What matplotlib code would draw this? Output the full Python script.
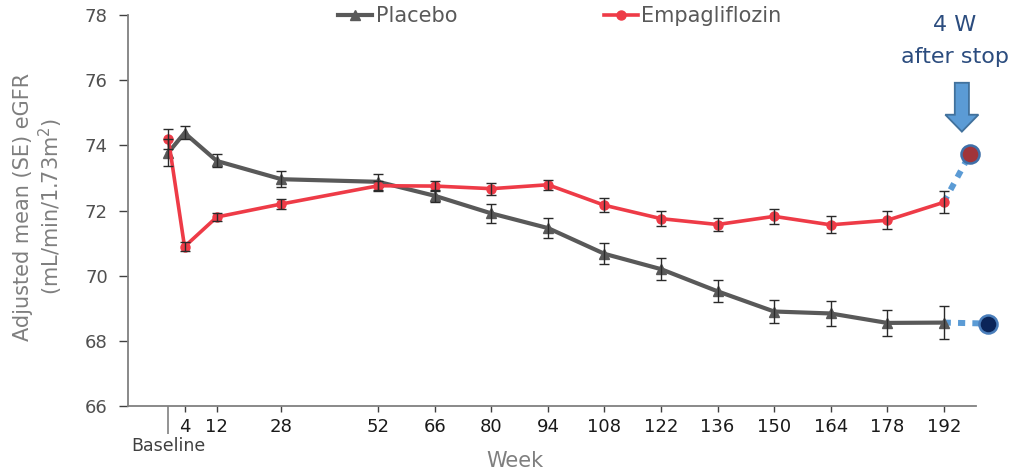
#!/usr/bin/env python
"""
Adjusted mean eGFR over time, placebo vs empagliflozin, with the
4-week off-treatment follow-up values after stop.
"""

import matplotlib
matplotlib.use("Agg")
import matplotlib.pyplot as plt
from matplotlib.patches import FancyArrow

weeks = [0, 4, 12, 28, 52, 66, 80, 94, 108, 122, 136, 150, 164, 178, 192]
week_labels = ["4", "12", "28", "52", "66", "80", "94", "108", "122", "136", "150", "164", "178", "192"]

placebo = [73.78, 74.38, 73.52, 72.96, 72.88, 72.45, 71.91, 71.46, 70.67, 70.20, 69.52, 68.90, 68.84, 68.55, 68.56]
placebo_se = [0.40, 0.20, 0.20, 0.25, 0.25, 0.18, 0.30, 0.30, 0.32, 0.33, 0.34, 0.36, 0.39, 0.41, 0.50]

empa = [74.20, 70.89, 71.80, 72.20, 72.76, 72.75, 72.67, 72.79, 72.16, 71.75, 71.57, 71.82, 71.56, 71.70, 72.25]
empa_se = [0.30, 0.13, 0.12, 0.15, 0.15, 0.15, 0.18, 0.15, 0.21, 0.22, 0.21, 0.23, 0.26, 0.27, 0.34]

# follow-up 4 weeks after stopping treatment
stop_weeks = [198.5, 203]
stop_values = [73.73, 68.53]

GRAY = "#595959"
RED = "#EE3B47"
BLUE = "#5B9BD5"
NAVY_TEXT = "#2B4C7E"

fig = plt.figure(figsize=(10.12, 4.75), dpi=100)
ax = fig.add_axes([128 / 1012, 69 / 475, 848 / 1012, 391 / 475])

# main series
p_line, = ax.plot(weeks, placebo, color=GRAY, lw=3.0, marker="^", ms=7.5, zorder=3, label="Placebo")
e_line, = ax.plot(weeks, empa, color=RED, lw=2.6, marker="o", ms=6.5, zorder=4, label="Empagliflozin")
ax.errorbar(weeks, placebo, yerr=placebo_se, fmt="none", ecolor="#2a2a2a", elinewidth=1.0, capsize=3.5, capthick=1.0, zorder=5)
ax.errorbar(weeks, empa, yerr=empa_se, fmt="none", ecolor="#2a2a2a", elinewidth=1.0, capsize=3.5, capthick=1.0, zorder=5)

# dotted extension to the off-treatment values
ax.plot([weeks[-1], stop_weeks[0]], [empa[-1], stop_values[0]], color=BLUE, lw=4.3,
        linestyle=(0, (1.2, 1.2)), clip_on=False, zorder=2)
ax.plot([weeks[-1], stop_weeks[1]], [placebo[-1], stop_values[1]], color=BLUE, lw=4.3,
        linestyle=(0, (1.2, 1.2)), clip_on=False, zorder=2)
ax.plot([stop_weeks[0]], [stop_values[0]], marker="o", ms=13, mfc="#A0343A", mec="#3F6FA8",
        mew=1.8, clip_on=False, zorder=6)
ax.plot([stop_weeks[1]], [stop_values[1]], marker="o", ms=13, mfc="#0B2559", mec="#4A7EBB",
        mew=1.8, clip_on=False, zorder=6)

# block arrow pointing at the off-treatment value
arrow = FancyArrow(196.5, 75.92, 0, -1.5, width=3.5, head_width=8.2, head_length=0.52,
                   length_includes_head=True, facecolor=BLUE, edgecolor="#41719C", lw=1.3,
                   clip_on=False, zorder=6)
ax.add_patch(arrow)
fig.text(955 / 1012, 1 - 25 / 475, "4 W", ha="center", va="center", fontsize=16, color=NAVY_TEXT)
fig.text(955 / 1012, 1 - 57 / 475, "after stop", ha="center", va="center", fontsize=16, color=NAVY_TEXT)

# axes
ax.set_xlim(-10, 200)
ax.set_ylim(66, 78)
ax.set_yticks(range(66, 79, 2))
ax.set_xticks(weeks[1:])
ax.set_xticklabels(week_labels)
ax.set_xticks([0], minor=True)
ax.set_xticklabels(["Baseline"], minor=True)
ax.tick_params(axis="x", which="major", length=4.3, width=1, color="#404040", pad=4,
               labelsize=13, labelcolor="#1a1a1a")
ax.tick_params(axis="x", which="minor", length=20, width=1.2, color="#808080", pad=2,
               labelsize=12.5, labelcolor="#404040")
ax.tick_params(axis="y", length=6.5, width=1, color="#404040", pad=8, labelsize=13, labelcolor="#505050")

for side in ("top", "right"):
    ax.spines[side].set_visible(False)
for side in ("left", "bottom"):
    ax.spines[side].set_color("#808080")
    ax.spines[side].set_linewidth(1.3)

ax.set_ylabel("Adjusted mean (SE) eGFR\n(mL/min/1.73m$^{2}$)", fontsize=15, color="#7F7F7F",
              linespacing=1.2)
ax.yaxis.set_label_coords(-0.074, 0.51)
ax.set_xlabel("Week", fontsize=15, color="#7F7F7F")
ax.xaxis.set_label_coords((515 - 128) / 848, -(451 - 406) / 391)

# legend entries placed separately, as in the source slide
for handle, x0 in ((p_line, 338), (e_line, 604)):
    fig.legend(handles=[handle], loc="center left", bbox_to_anchor=(x0 / 1012, 1 - 16 / 475),
               frameon=False, fontsize=15, handlelength=1.65, handletextpad=0.15,
               borderpad=0, borderaxespad=0, labelcolor=GRAY)

fig.savefig("out.png", dpi=100)
